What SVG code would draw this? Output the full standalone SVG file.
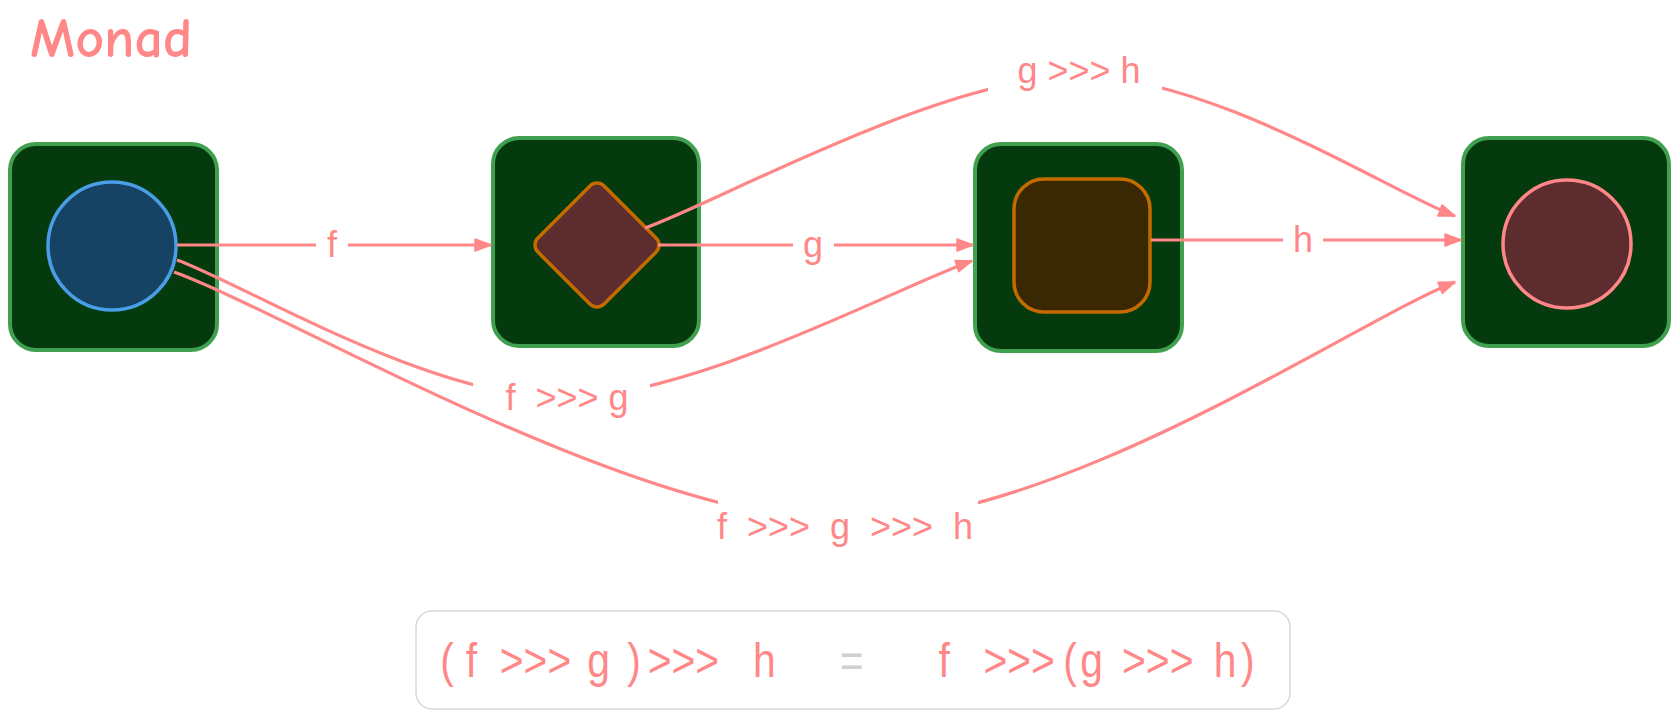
<svg xmlns="http://www.w3.org/2000/svg" width="1680" height="720" viewBox="0 0 1680 720">
<style>
.box{fill:#043a0e;stroke:#40a04f;stroke-width:4}
.edge{fill:none;stroke:#ff8787;stroke-width:3.2}
.lbl{font-family:"Liberation Sans",Arial,sans-serif;font-size:36px;fill:#ff8787;text-anchor:middle;white-space:pre}
.frm{font-family:"Liberation Sans",Arial,sans-serif;font-size:48px;fill:#ff8787}
.title{font-family:"Comic Sans MS","Comic Neue",cursive;font-size:56px;font-weight:bold;fill:#ff8787}
</style>
<defs>
<marker id="arr" viewBox="0 0 18 14" refX="17" refY="7" markerWidth="18" markerHeight="14" markerUnits="userSpaceOnUse" orient="auto">
<path d="M1,1 L17,7 L1,13 z" fill="#ff8787" stroke="#ff8787" stroke-width="1.5" stroke-linejoin="round"/>
</marker>
<mask id="mf" maskUnits="userSpaceOnUse" x="0" y="0" width="1680" height="720"><rect width="1680" height="720" fill="#fff"/><rect x="316" y="225" width="32" height="40" fill="#000"/></mask>
<mask id="mg" maskUnits="userSpaceOnUse" x="0" y="0" width="1680" height="720"><rect width="1680" height="720" fill="#fff"/><rect x="793" y="225" width="41" height="40" fill="#000"/></mask>
<mask id="mh" maskUnits="userSpaceOnUse" x="0" y="0" width="1680" height="720"><rect width="1680" height="720" fill="#fff"/><rect x="1283" y="220" width="40" height="40" fill="#000"/></mask>
<mask id="mgh" maskUnits="userSpaceOnUse" x="0" y="0" width="1680" height="720"><rect width="1680" height="720" fill="#fff"/><rect x="988" y="50" width="174" height="50" fill="#000"/></mask>
<mask id="mfg" maskUnits="userSpaceOnUse" x="0" y="0" width="1680" height="720"><rect width="1680" height="720" fill="#fff"/><rect x="473" y="370" width="177" height="40" fill="#000"/></mask>
<mask id="mfgh" maskUnits="userSpaceOnUse" x="0" y="0" width="1680" height="720"><rect width="1680" height="720" fill="#fff"/><rect x="718" y="490" width="260" height="50" fill="#000"/></mask>
</defs>
<rect width="1680" height="720" fill="#fff"/>
<text class="title" x="30" y="57">Monad</text>

<g id="node-a">
<rect class="box" x="10" y="144" width="207" height="206" rx="26"/>
<circle cx="112" cy="246" r="64" fill="#164263" stroke="#4a9ee8" stroke-width="3.5"/>
</g>
<g id="node-b">
<rect class="box" x="493" y="138" width="206" height="208" rx="26"/>
<rect x="-46.75" y="-46.75" width="93.5" height="93.5" rx="10" transform="translate(597,245) rotate(45)" fill="#5c2c2e" stroke="#c46b00" stroke-width="3.5"/>
</g>
<g id="node-c">
<rect class="box" x="975" y="144" width="207" height="207" rx="26"/>
<rect x="1014" y="179" width="136" height="133" rx="30" fill="#3a2803" stroke="#c46b00" stroke-width="3.5"/>
</g>
<g id="node-d">
<rect class="box" x="1463" y="138" width="206" height="208" rx="26"/>
<circle cx="1567" cy="244" r="64" fill="#5c2c2e" stroke="#ff8787" stroke-width="3.5"/>
</g>

<g id="connectors">
<path class="edge" mask="url(#mf)" marker-end="url(#arr)" d="M177,245 L491,245"/>
<path class="edge" mask="url(#mg)" marker-end="url(#arr)" d="M658,245 L973,245"/>
<path class="edge" mask="url(#mh)" marker-end="url(#arr)" d="M1151,240 L1461,240"/>
<path class="edge" mask="url(#mgh)" marker-end="url(#arr)" d="M645,228 C716.7,202.7 940,78 1075,76 C1210,74 1391.7,192.7 1455,216"/>
<path class="edge" mask="url(#mfg)" marker-end="url(#arr)" d="M177,260 C241.2,283 429.5,397.8 562,398 C694.5,398.2 903.7,283.8 972,261"/>
<path class="edge" mask="url(#mfgh)" marker-end="url(#arr)" d="M174,272 C286.2,312.3 633.5,520.3 847,522 C1060.5,523.7 1353.7,322 1455,282"/>
<text class="lbl" x="332" y="257">f</text>
<text class="lbl" x="813" y="257">g</text>
<text class="lbl" x="1303" y="252">h</text>
<text class="lbl" x="1079" y="83">g &gt;&gt;&gt; h</text>
<text class="lbl" x="567" y="410">f  &gt;&gt;&gt; g</text>
<text class="lbl" x="845" y="539">f  &gt;&gt;&gt;  g  &gt;&gt;&gt;  h</text>
</g>

<g id="formula">
<rect x="416" y="611" width="874" height="98" rx="16" fill="#fff" stroke="#d8d8d8" stroke-width="1.5"/>
<g transform="scale(0.85,1)">
<text class="frm" y="677"><tspan x="518">(</tspan><tspan x="548">f</tspan><tspan x="588">&gt;&gt;&gt;</tspan><tspan x="691">g</tspan><tspan x="738">)</tspan><tspan x="762">&gt;&gt;&gt;</tspan><tspan x="886">h</tspan><tspan x="988" fill="#d0d0d0">=</tspan><tspan x="1104">f</tspan><tspan x="1157">&gt;&gt;&gt;</tspan><tspan x="1251">(</tspan><tspan x="1271">g</tspan><tspan x="1320">&gt;&gt;&gt;</tspan><tspan x="1428">h</tspan><tspan x="1460">)</tspan></text>
</g>
</g>
</svg>
